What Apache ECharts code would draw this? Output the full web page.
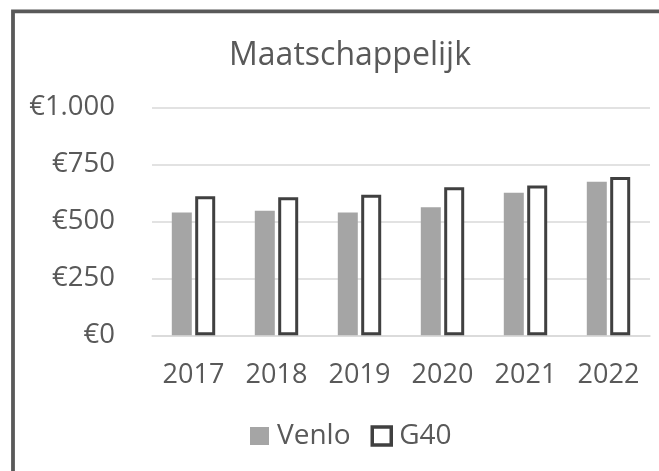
<!DOCTYPE html>
<html>
<head>
<meta charset="utf-8">
<script src="https://cdn.jsdelivr.net/npm/echarts@6/dist/echarts.min.js"></script>
<style>
  html, body { margin: 0; padding: 0; background: #ffffff; }
  #chart { width: 659px; height: 471px; }
</style>
</head>
<body>
<div id="chart"></div>
<script>
// Yearly amounts per inhabitant (euro)
const years = ['2017', '2018', '2019', '2020', '2021', '2022'];
const venlo = [539, 546, 539, 562, 625, 673];
const g40 = [610, 605, 616, 649, 657, 694];
const yTicks = [0, 250, 500, 750, 1000];

const textColor = '#595959';
const font = '"Open Sans", "DejaVu Sans", sans-serif';

function euro(v) {
  // Dutch thousands separator
  return '€' + String(v).replace(/\B(?=(\d{3})+(?!\d))/g, '.');
}

const chart = echarts.init(document.getElementById('chart'), null, { renderer: 'canvas' });

chart.setOption({
  backgroundColor: '#ffffff',
  animation: false,
  title: {
    text: 'Maatschappelijk',
    left: 345,
    top: 35,
    textAlign: 'center',
    textStyle: { color: textColor, fontFamily: font, fontWeight: 'normal', fontSize: 32 }
  },
  graphic: [{
    type: 'rect',
    shape: { x: 13, y: 11.3, width: 700, height: 520 },
    style: { fill: 'none', stroke: '#595959', lineWidth: 3.8 },
    silent: true,
    z: 100
  }],
  legend: {
    data: [
      { name: 'Venlo' },
      { name: 'G40', itemStyle: { color: '#ffffff', borderColor: '#404040', borderWidth: 3.5 } }
    ],
    icon: 'rect',
    left: 245,
    top: 417,
    itemWidth: 19,
    itemHeight: 18,
    itemGap: 20,
    textStyle: { color: textColor, fontFamily: font, fontSize: 28, padding: [0, 0, 0, 3] }
  },
  grid: { left: 152, right: 9, top: 107.3, bottom: 135.7 },
  xAxis: {
    type: 'category',
    data: years,
    axisTick: { show: false },
    axisLine: { lineStyle: { color: '#d9d9d9', width: 1.5 } },
    axisLabel: { color: textColor, fontFamily: font, fontSize: 27, margin: 27 }
  },
  yAxis: {
    type: 'value',
    min: yTicks[0],
    max: yTicks[yTicks.length - 1],
    interval: yTicks[1] - yTicks[0],
    axisLine: { show: false },
    axisTick: { show: false },
    splitLine: { lineStyle: { color: '#d9d9d9', width: 1.5 } },
    axisLabel: { color: textColor, fontFamily: font, fontSize: 27.5, margin: 37, formatter: euro }
  },
  series: [
    {
      name: 'Venlo',
      type: 'bar',
      data: venlo,
      barWidth: 20,
      barGap: '17%',
      itemStyle: { color: '#a5a5a5' }
    },
    {
      name: 'G40',
      type: 'bar',
      data: g40,
      barWidth: 20,
      itemStyle: { color: '#ffffff', borderColor: '#404040', borderWidth: 3 }
    }
  ]
});
</script>
</body>
</html>
